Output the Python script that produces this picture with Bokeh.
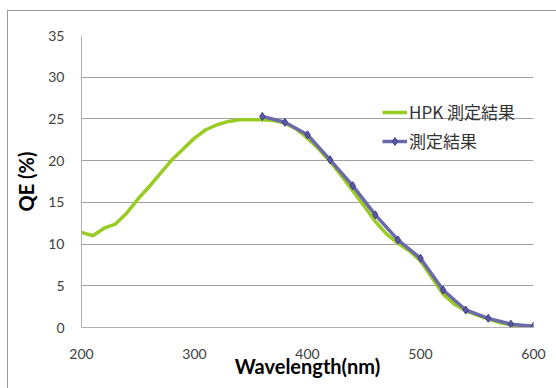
from bokeh.plotting import figure
from bokeh.models import Range1d, FixedTicker, Legend, LegendItem
from bokeh.embed import file_html
from bokeh.resources import INLINE

# HPK reference curve
hpk_wl = [200, 210, 220, 230, 240, 250, 260, 270, 280, 290, 300, 310, 320, 330,
          340, 350, 360, 370, 380, 390, 400, 410, 420, 430, 440, 450, 460, 470,
          480, 490, 500, 510, 520, 530, 540, 550, 560, 570, 580, 590]
hpk_qe = [11.4, 11.0, 11.9, 12.4, 13.7, 15.4, 16.9, 18.5, 20.1, 21.4, 22.7, 23.7,
          24.3, 24.7, 24.9, 24.9, 24.9, 24.8, 24.5, 23.8, 22.7, 21.4, 19.9, 18.2,
          16.4, 14.6, 12.7, 11.2, 10.1, 9.2, 8.0, 6.0, 4.0, 2.8, 2.0, 1.5, 1.0,
          0.6, 0.3, 0.15]

# Measured results
meas_wl = [360, 380, 400, 420, 440, 460, 480, 500, 520, 540, 560, 580, 600]
meas_qe = [25.3, 24.6, 23.1, 20.1, 17.0, 13.5, 10.5, 8.3, 4.5, 2.1, 1.1, 0.4, 0.15]

x_ticks = [200, 300, 400, 500, 600]
y_ticks = [0, 5, 10, 15, 20, 25, 30, 35]

legend_labels = ["HPK 測定結果", "測定結果"]

p = figure(width=548, height=377, output_backend="svg", toolbar_location=None,
           x_range=Range1d(200, 600), y_range=Range1d(0, 35),
           min_border_left=73, min_border_right=23, min_border_top=24,
           min_border_bottom=61)
p.margin = (11, 0, 0, 8)
p.styles = {"outline": "1px solid #999999"}
p.outline_line_color = None
p.background_fill_color = "white"
p.border_fill_color = "white"

r1 = p.line(hpk_wl, hpk_qe, line_color="#99CC22", line_width=3.5)
r2 = p.line(meas_wl, meas_qe, line_color="#6A6AA8", line_width=3.5)
r3 = p.scatter(meas_wl, meas_qe, marker="diamond", size=8, fill_color="#5A5AA8",
               line_color="#3A3A88", line_width=1)

for ax in (p.xaxis[0], p.yaxis[0]):
    ax.major_tick_line_color = None
    ax.minor_tick_line_color = None
    ax.axis_line_color = "#B0B0B0"
    ax.axis_line_width = 1
    ax.major_label_text_font = "Lato"
    ax.major_label_text_font_size = "14px"
    ax.major_label_text_color = "#404040"
    ax.axis_label_text_font = "Lato"
    ax.axis_label_text_font_style = "bold"
    ax.axis_label_text_font_size = "20px"
    ax.axis_label_text_color = "#000000"

p.xaxis.ticker = FixedTicker(ticks=x_ticks)
p.yaxis.ticker = FixedTicker(ticks=y_ticks)
p.xaxis.axis_label = "Wavelength(nm)"
p.yaxis.axis_label = "QE (%)"
p.xaxis.major_label_standoff = 15
p.xaxis.axis_label_standoff = -8
p.yaxis.major_label_standoff = 11
p.yaxis.axis_label_standoff = 7

p.xgrid.grid_line_color = None
p.ygrid.grid_line_color = "#A0A0A0"
p.ygrid.grid_line_width = 1

legend = Legend(items=[LegendItem(label=legend_labels[0], renderers=[r1]),
                       LegendItem(label=legend_labels[1], renderers=[r2, r3])],
                location=(301, 174), padding=0, margin=0, spacing=4,
                glyph_width=25, label_standoff=2,
                background_fill_alpha=0, border_line_color=None,
                label_text_font="Noto Sans CJK JP", label_text_font_size="17px",
                label_text_color="#333333")
p.add_layout(legend, "center")

open("out.html", "w").write(file_html(p, INLINE))
